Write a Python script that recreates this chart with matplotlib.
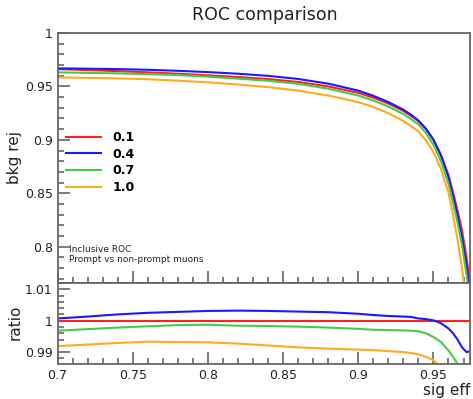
import matplotlib
matplotlib.use("Agg")
import matplotlib.pyplot as plt
from matplotlib.ticker import MultipleLocator, FuncFormatter

# ---- data ----
sig_eff = [0.70, 0.72, 0.74, 0.76, 0.78, 0.80, 0.82, 0.84, 0.86, 0.88, 0.90, 0.91,
           0.92, 0.93, 0.935, 0.94, 0.945, 0.95, 0.955, 0.96, 0.963, 0.966, 0.969,
           0.972, 0.975]

labels = ["0.1", "0.4", "0.7", "1.0"]
colors = ["#ff2020", "#1a1aff", "#44cc44", "#ffaa22"]

bkg_rej_01 = [0.9662, 0.9653, 0.9643, 0.9632, 0.9619, 0.9604, 0.9588, 0.9569, 0.9542,
              0.9500, 0.9440, 0.9395, 0.9340, 0.9270, 0.9225, 0.9175, 0.9100, 0.9000,
              0.8860, 0.8670, 0.8510, 0.8340, 0.8150, 0.7900, 0.7570]
bkg_rej_04 = [0.9669, 0.9666, 0.9662, 0.9656, 0.9646, 0.9634, 0.9619, 0.9599, 0.9570,
              0.9526, 0.9461, 0.9412, 0.9354, 0.9282, 0.9236, 0.9181, 0.9105, 0.9001,
              0.8853, 0.8648, 0.8476, 0.8290, 0.8081, 0.7821, 0.7497]
bkg_rej_07 = [0.9631, 0.9627, 0.9622, 0.9615, 0.9606, 0.9592, 0.9573, 0.9553, 0.9524,
              0.9479, 0.9415, 0.9368, 0.9312, 0.9241, 0.9195, 0.9144, 0.9064, 0.8953,
              0.8800, 0.8588, 0.8412, 0.8225, 0.8011, 0.7734, 0.7381]
bkg_rej_10 = [0.9584, 0.9580, 0.9575, 0.9567, 0.9554, 0.9538, 0.9518, 0.9493, 0.9461,
              0.9415, 0.9353, 0.9307, 0.9249, 0.9177, 0.9130, 0.9077, 0.8995, 0.8887,
              0.8727, 0.8505, 0.8297, 0.8065, 0.7800, 0.7466, 0.7040]

ratio_01 = [1.0] * len(sig_eff)
ratio_04 = [1.0007, 1.0013, 1.0020, 1.0025, 1.0028, 1.0031, 1.0032, 1.0031, 1.0029,
            1.0027, 1.0022, 1.0018, 1.0015, 1.0013, 1.0012, 1.0007, 1.0005, 1.0001,
            0.9992, 0.9975, 0.9960, 0.9940, 0.9915, 0.9900, 0.9903]
ratio_07 = [0.9968, 0.9973, 0.9978, 0.9982, 0.9986, 0.9987, 0.9984, 0.9983, 0.9981,
            0.9978, 0.9974, 0.9971, 0.9970, 0.9969, 0.9968, 0.9966, 0.9960, 0.9948,
            0.9932, 0.9905, 0.9885, 0.9862, 0.9830, 0.9790, 0.9750]
ratio_10 = [0.9919, 0.9924, 0.9929, 0.9933, 0.9932, 0.9931, 0.9927, 0.9921, 0.9915,
            0.9911, 0.9908, 0.9906, 0.9903, 0.9900, 0.9897, 0.9893, 0.9885, 0.9874,
            0.9850, 0.9810, 0.9750, 0.9670, 0.9570, 0.9450, 0.9300]

rocs = [bkg_rej_01, bkg_rej_04, bkg_rej_07, bkg_rej_10]
ratios = [ratio_01, ratio_04, ratio_07, ratio_10]

# ---- figure ----
W, H = 473, 399
fig = plt.figure(figsize=(W / 100, H / 100), dpi=100)

def px_axes(x0, y0, x1, y1):
    return fig.add_axes([x0 / W, 1 - y1 / H, (x1 - x0) / W, (y1 - y0) / H])

ax = px_axes(57.5, 33, 470, 283)
axr = px_axes(57.5, 283, 470, 364)

spine_col = "#666666"
fmt = FuncFormatter(lambda v, p: "%g" % round(v, 4))

for a in (ax, axr):
    for s in a.spines.values():
        s.set_color(spine_col)
        s.set_linewidth(1.3)
    a.tick_params(which="both", direction="in", color=spine_col, width=1.2,
                  top=False, right=False, labelsize=9, labelcolor="#222222")
    a.tick_params(which="major", length=8.5)
    a.tick_params(which="minor", length=4.5)
    a.set_xlim(0.7, 0.9743)
    a.xaxis.set_major_locator(MultipleLocator(0.05))
    a.xaxis.set_minor_locator(MultipleLocator(0.01))
    a.xaxis.set_major_formatter(fmt)
    a.yaxis.set_major_formatter(fmt)

for y, c, l in zip(rocs, colors, labels):
    ax.plot(sig_eff, y, color=c, lw=1.5, label=l)
ax.set_ylim(0.766, 1.0)
ax.yaxis.set_major_locator(MultipleLocator(0.05))
ax.yaxis.set_minor_locator(MultipleLocator(0.01))
ax.tick_params(axis="x", labelbottom=False)

for y, c in zip(ratios, colors):
    axr.plot(sig_eff, y, color=c, lw=1.5)
axr.set_ylim(0.9862, 1.012)
axr.yaxis.set_major_locator(MultipleLocator(0.01))
axr.yaxis.set_minor_locator(MultipleLocator(0.002))

ax.legend(loc="upper left", bbox_to_anchor=(66 / W, 1 - 131 / H),
          bbox_transform=fig.transFigure, frameon=False, borderpad=0,
          borderaxespad=0, handlelength=2.8, handletextpad=0.9,
          labelspacing=0.3, prop={"weight": "bold", "size": 9})

fig.text(265 / W, 1 - 15 / H, "ROC comparison", ha="center", va="center",
         fontsize=12.5, color="#222222")
fig.text(15 / W, 1 - 158 / H, "bkg rej", ha="center", va="center",
         rotation=90, fontsize=11, color="#222222")
fig.text(15 / W, 1 - 322 / H, "ratio", ha="center", va="center",
         rotation=90, fontsize=11, color="#222222")
fig.text(470 / W, 1 - 390 / H, "sig eff", ha="right", va="center",
         fontsize=11, color="#222222")
fig.text(69 / W, 1 - 249 / H, "Inclusive ROC", ha="left", va="center",
         fontsize=6.5, color="#222222")
fig.text(69 / W, 1 - 260 / H, "Prompt vs non-prompt muons", ha="left",
         va="center", fontsize=6.5, color="#222222")

fig.savefig("out.png", dpi=100)
